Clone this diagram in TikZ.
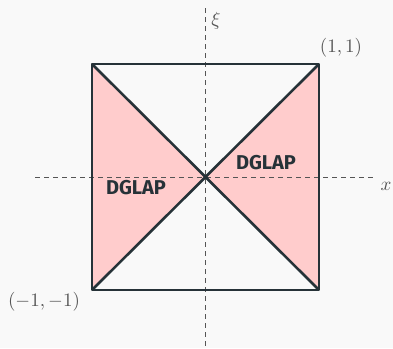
\documentclass[tikz,border=0pt]{standalone}
\usepackage{fontspec}
\newfontfamily\labelfont{Fira Sans}
\definecolor{bgc}{HTML}{F9F9F9}
\definecolor{linec}{HTML}{263238}
\definecolor{pinkc}{HTML}{FFCCCC}
\definecolor{axisc}{HTML}{555555}
\definecolor{mathc}{HTML}{555555}
\begin{document}
\begin{tikzpicture}[x=1pt,y=-1pt,
  axis/.style={draw=axisc,dashed,line width=0.9pt,dash pattern=on 5pt off 4pt},
  sq/.style={draw=linec,line width=2.6pt,line join=round},
  region/.style={fill=pinkc,draw=none},
  dglap/.style={text=linec,font=\labelfont\bfseries\fontsize{20}{24}\selectfont,inner sep=0pt},
  mlab/.style={text=mathc,scale=1.9,inner sep=0pt}]
\fill[bgc] (0,0) rectangle (393,348);
\useasboundingbox (0,0) rectangle (393,348);
\coordinate (tl) at (92,64);
\coordinate (tr) at (319,64);
\coordinate (br) at (319,290);
\coordinate (bl) at (92,290);
\coordinate (c) at (205.5,177);
\coordinate (xl) at (35,177);
\coordinate (xr) at (376,177);
\coordinate (yt) at (205.5,8);
\coordinate (yb) at (205.5,346);
\fill[region] (tl) -- (bl) -- (c) -- cycle;
\fill[region] (tr) -- (br) -- (c) -- cycle;
\draw[axis] (xl) -- (xr);
\draw[axis] (yt) -- (yb);
\draw[sq] (tl) -- (tr) -- (br) -- (bl) -- cycle;
\draw[sq] (tl) -- (br);
\draw[sq] (tr) -- (bl);
\node[dglap] (d1) at (136,188) {DGLAP};
\node[dglap] (d2) at (266,163) {DGLAP};
\node[mlab] (p1) at (341,48) {$(1,1)$};
\node[mlab] (p2) at (44,302) {$(-1,-1)$};
\node[mlab] (xi) at (216,21) {$\xi$};
\node[mlab] (xx) at (386,186) {$x$};
\end{tikzpicture}
\end{document}
